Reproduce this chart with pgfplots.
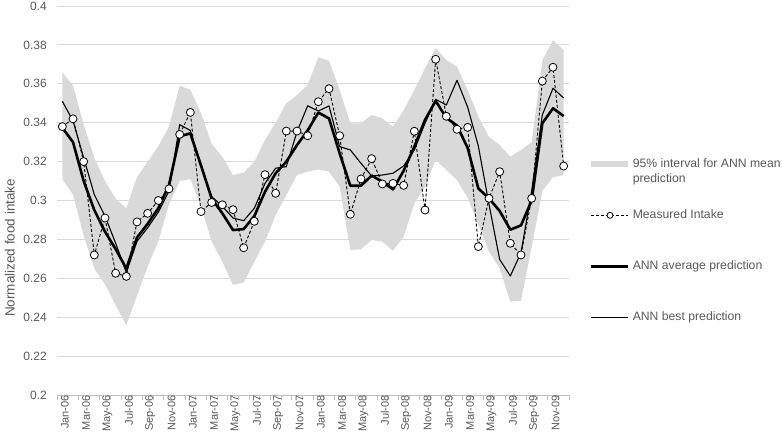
\documentclass[border=0pt]{standalone}
\usepackage{fontspec}
\setmainfont{Liberation Sans}
\usepackage{pgfplots}
\pgfplotsset{compat=1.18}
\usepackage{pgfplotstable}
\usepgfplotslibrary{fillbetween}
\definecolor{bandc}{RGB}{217,217,217}
\definecolor{txt}{RGB}{89,89,89}
\definecolor{gridc}{RGB}{217,217,217}
\definecolor{axisc}{RGB}{191,191,191}

\pgfplotsset{
  linelegend/.style={legend image code/.code={\draw[##1] (0pt,0pt) -- (37pt,0pt);}},
  marklegend/.style={legend image code/.code={\draw[mark repeat=2,mark phase=2,##1,mark size=3pt] plot coordinates {(0pt,0pt) (18.5pt,0pt) (37pt,0pt)};}},
  bandlegend/.style={legend image code/.code={\fill[bandc] (0pt,-3pt) rectangle (37pt,3pt);}},
}

\pgfplotstableread{
i  meas   avg    best   up     lo
0  0.338  0.3374 0.351  0.366  0.311
1  0.342  0.330  0.341  0.359  0.303
2  0.320  0.310  0.322  0.339  0.282
3  0.272  0.295  0.303  0.322  0.265
4  0.291  0.284  0.292  0.310  0.257
5  0.2626 0.275  0.278  0.301  0.246
6  0.261  0.265  0.263  0.296  0.236
7  0.289  0.281  0.279  0.312  0.251
8  0.2934 0.288  0.286  0.320  0.266
9  0.300  0.296  0.294  0.328  0.279
10 0.306  0.308  0.305  0.338  0.298
11 0.334  0.333  0.339  0.359  0.310
12 0.3453 0.3345 0.336  0.357  0.311
13 0.2943 0.318  0.318  0.345  0.297
14 0.299  0.301  0.302  0.329  0.279
15 0.2978 0.2934 0.297  0.3225 0.2685
16 0.2953 0.2848 0.291  0.313  0.2566
17 0.2757 0.2853 0.2896 0.3143 0.2578
18 0.2893 0.292  0.296  0.320  0.2685
19 0.3133 0.3045 0.3088 0.331  0.2788
20 0.3037 0.314  0.3166 0.340  0.2925
21 0.3357 0.320  0.3174 0.350  0.3028
22 0.3357 0.3285 0.3354 0.3542 0.3131
23 0.3333 0.336  0.3487 0.3594 0.3148
24 0.3508 0.3452 0.346  0.3736 0.3160
25 0.3575 0.3422 0.3486 0.3719 0.3148
26 0.3333 0.3242 0.3277 0.3568 0.3071
27 0.2929 0.3076 0.326  0.3397 0.2746
28 0.3111 0.3076 0.3191 0.3397 0.2749
29 0.3215 0.3128 0.3126 0.344  0.2797
30 0.3085 0.3097 0.3131 0.3422 0.2788
31 0.3088 0.3057 0.314  0.338  0.2742
32 0.3078 0.3153 0.3178 0.3465 0.2814
33 0.3356 0.3277 0.326  0.3568 0.2985
34 0.2951 0.3414 0.3397 0.3679 0.3071
35 0.3726 0.3512 0.352  0.3783 0.3208
36 0.3433 0.3425 0.3491 0.3722 0.3157
37 0.3366 0.3385 0.3618 0.3688 0.3105
38 0.3376 0.327  0.348  0.3568 0.3014
39 0.2763 0.3062 0.328  0.3431 0.2875
40 0.3011 0.3011 0.298  0.3328 0.2737
41 0.3148 0.2946 0.2697 0.3285 0.2651
42 0.2780 0.2850 0.2612 0.3225 0.248
43 0.2720 0.2872 0.2732 0.326  0.2485
44 0.3011 0.300  0.305  0.330  0.276
45 0.3614 0.3397 0.344  0.372  0.305
46 0.3685 0.3474 0.3577 0.3825 0.312
47 0.3177 0.3434 0.3527 0.3774 0.313
}\data

\begin{document}
\begin{tikzpicture}
\begin{axis}[
  at={(0pt,0pt)}, anchor=south west,
  scale only axis, width=512pt, height=389pt,
  xmin=-0.5, xmax=47.5, ymin=0.2, ymax=0.4,
  axis x line*=bottom, axis y line*=left,
  y axis line style={draw=none},
  x axis line style={draw=axisc, line width=0.8pt},
  xtick={0,2,...,46},
  xticklabels={Jan-06,Mar-06,May-06,Jul-06,Sep-06,Nov-06,Jan-07,Mar-07,May-07,Jul-07,Sep-07,Nov-07,Jan-08,Mar-08,May-08,Jul-08,Sep-08,Nov-08,Jan-09,Mar-09,May-09,Jul-09,Sep-09,Nov-09},
  minor xtick={-0.5,0.5,...,47.5},
  major tick length=0pt,
  minor tick length=5pt,
  tick align=outside,
  minor tick style={draw=axisc, line width=0.8pt},
  xticklabel style={rotate=90, anchor=east, font=\fontsize{11}{13}\selectfont, text=txt, inner sep=0pt, yshift=-2.5pt},
  ytick={0.2,0.22,0.24,0.26,0.28,0.3,0.32,0.34,0.36,0.38,0.4},
  yticklabels={0.2,0.22,0.24,0.26,0.28,0.3,0.32,0.34,0.36,0.38,0.4},
  yticklabel style={font=\fontsize{12}{14}\selectfont, text=txt, inner sep=0pt, anchor=east, xshift=-10pt},
  ymajorgrids, major grid style={draw=gridc, line width=0.9pt},
  ylabel={Normalized food intake},
  ylabel style={at={(axis description cs:-0.092,0.378)}, anchor=center, font=\fontsize{13.5}{16}\selectfont, text=txt},
  legend style={at={(1.041,0.609)}, anchor=north west, draw=none, fill=none, inner sep=0pt,
    row sep=39pt, column sep=3pt, font=\fontsize{12.2}{15}\selectfont, text=txt,
    nodes={inner sep=0pt, text height=9pt, text depth=3pt}},
  legend cell align=left,
]
\addplot[draw=none, name path=up, forget plot] table[x=i,y=up]{\data};
\addplot[draw=none, name path=lo, forget plot] table[x=i,y=lo]{\data};
\addplot[fill=bandc, draw=none, bandlegend] fill between[of=up and lo];
\addlegendentry{\begin{tabular}[t]{@{}l@{}}95\% interval for ANN mean\\prediction\end{tabular}}

\addplot[black, line width=0.9pt, dash pattern=on 3pt off 2pt,
  mark=*, mark size=4pt, mark options={solid, fill=white, draw=black, line width=0.8pt},
  marklegend]
  table[x=i,y=meas]{\data};
\addlegendentry{Measured Intake}

\addplot[black, line width=2.6pt, line join=round, linelegend]
  table[x=i,y=avg]{\data};
\addlegendentry{ANN average prediction}

\addplot[black, line width=1.1pt, line join=round, linelegend]
  table[x=i,y=best]{\data};
\addlegendentry{ANN best prediction}
\end{axis}
\pgfresetboundingbox
\path[use as bounding box] (-57pt,-47pt) rectangle (725pt,395pt);
\end{tikzpicture}
\end{document}
